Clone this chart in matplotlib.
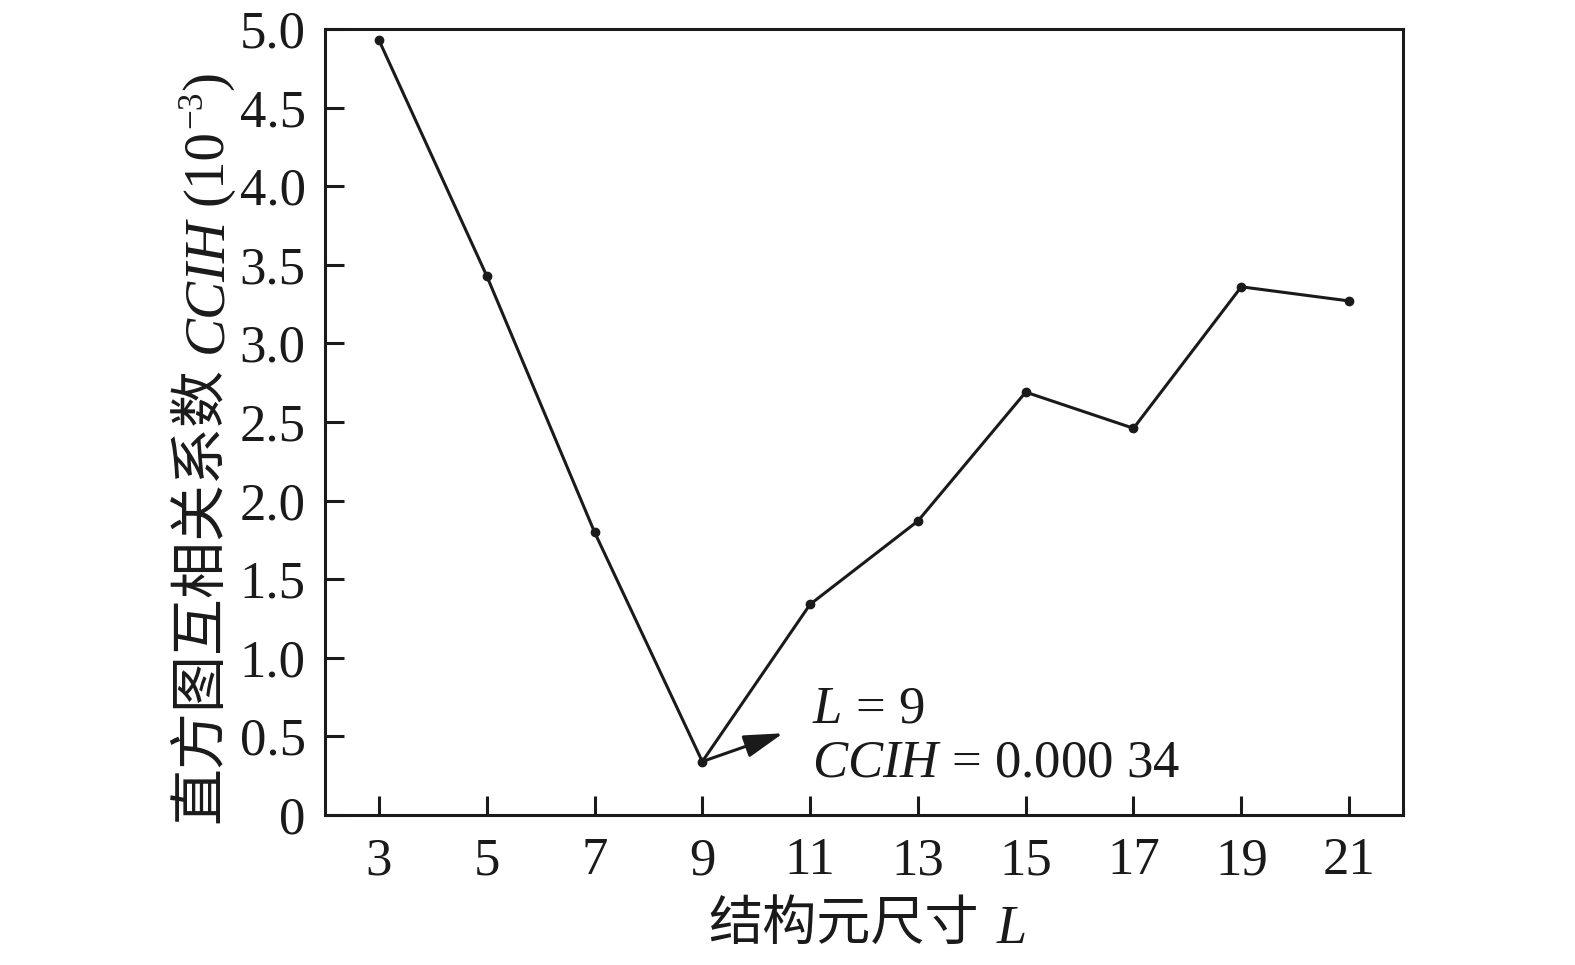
"""
CCIH versus structuring element size L, line chart with annotated minimum.
"""

import matplotlib
matplotlib.use("Agg")
import matplotlib.pyplot as plt
from matplotlib.transforms import IdentityTransform

plt.rcParams["font.family"] = ["Liberation Serif", "Noto Sans CJK SC"]
plt.rcParams["mathtext.fontset"] = "custom"
plt.rcParams["mathtext.rm"] = "Liberation Serif"
plt.rcParams["mathtext.it"] = "Liberation Serif:italic"

# ---------------------------------------------------------------------------
# Data
# ---------------------------------------------------------------------------

L_sizes = [3, 5, 7, 9, 11, 13, 15, 17, 19, 21]
ccih    = [4.93, 3.43, 1.80, 0.34, 1.34, 1.87, 2.69, 2.46, 3.36, 3.27]

y_ticks      = [0, 0.5, 1.0, 1.5, 2.0, 2.5, 3.0, 3.5, 4.0, 4.5, 5.0]
y_ticklabels = ["0", "0.5", "1.0", "1.5", "2.0", "2.5", "3.0", "3.5", "4.0", "4.5", "5.0"]

best_L, best_ccih = 9, 0.34

INK = "#1a1a1a"
CJK = {"family": ["Noto Sans CJK SC"]}
ROM = {"family": ["Liberation Serif"]}
ITA = {"family": ["Liberation Serif"], "style": "italic"}


def place_run(fig, x0, y0, pieces, size, rotation=0):
    """Write text pieces one after another, starting at pixel (x0, y0)."""
    renderer = fig.canvas.get_renderer()
    pos = 0.0
    for text, props, scale, rise, gap in pieces:
        pos += gap
        if rotation == 0:
            x, y = x0 + pos, y0 + rise
        else:
            x, y = x0 - rise, y0 + pos
        t = fig.text(x, y, text, transform=IdentityTransform(),
                     rotation=rotation, rotation_mode="anchor",
                     ha="left", va="baseline", fontsize=size * scale,
                     color=INK, **props)
        bb = t.get_window_extent(renderer)
        pos += bb.width if rotation == 0 else bb.height


# ---------------------------------------------------------------------------
# Figure
# ---------------------------------------------------------------------------

W, H = 1575, 965
fig = plt.figure(figsize=(W / 100, H / 100), dpi=100)
ax = fig.add_axes([325 / W, 1 - 815 / H, (1403 - 325) / W, (815 - 29) / H])

ax.plot(L_sizes, ccih, color=INK, linewidth=2.2, marker="o", markersize=6)

ax.set_xlim(2, 22)
ax.set_ylim(0, 5.0)
ax.set_xticks(L_sizes)
ax.set_yticks(y_ticks)
ax.set_yticklabels(y_ticklabels)

for side in ax.spines.values():
    side.set_linewidth(2.2)
    side.set_color(INK)

ax.tick_params(axis="both", direction="in", length=14, width=2.2,
               labelsize=38, colors=INK)
ax.tick_params(axis="y", pad=14)
ax.tick_params(axis="x", pad=16)

# Axis titles (mixed CJK / italic Latin, so drawn piece by piece)
place_run(fig, 708, H - 943, [
    ("结构元尺寸", CJK, 1.0, 3, 0),
    ("L", ITA, 1.0, 0, 18),
], size=39)

place_run(fig, 221, H - 823, [
    ("直方图互相关系数", CJK, 1.0, 5, 0),
    ("CCIH", ITA, 1.0, 0, 14),
    ("(10", ROM, 1.0, 0, 12),
    ("\u22123", ROM, 0.62, 20, 1),
    (")", ROM, 1.0, 0, 0),
], size=41, rotation=90)

# Minimum annotation
ax.annotate(
    "", xy=(10.5, 0.52), xytext=(best_L, best_ccih),
    arrowprops=dict(arrowstyle="-|>,head_length=2.4,head_width=0.7",
                    color=INK, lw=2.2, shrinkA=0, shrinkB=0),
)
ax.text(11.03, 0.586, "$L$ = 9", fontsize=38,
        ha="left", va="baseline", color=INK)
ax.text(11.03, 0.248, "$CCIH$ = 0.000 34", fontsize=38,
        ha="left", va="baseline", color=INK)

fig.savefig("out.png", dpi=100)
